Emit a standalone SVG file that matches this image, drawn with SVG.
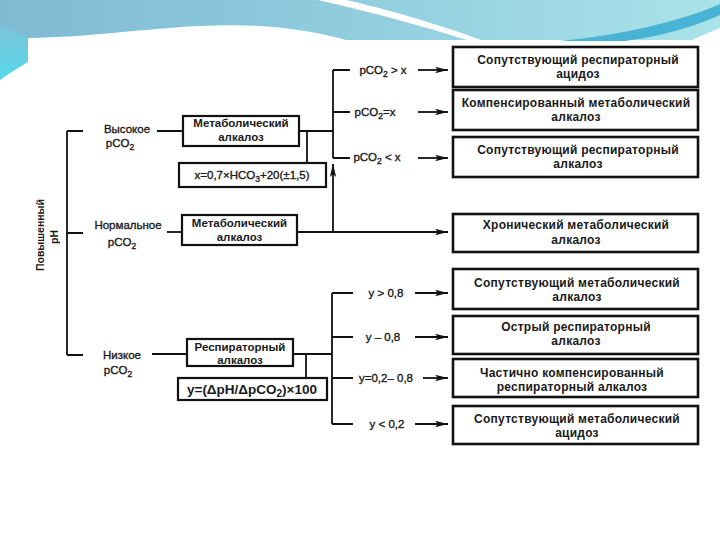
<svg xmlns="http://www.w3.org/2000/svg" width="720" height="540" viewBox="0 0 720 540">
<defs>
<linearGradient id="hdr" x1="0" y1="0" x2="1" y2="0">
<stop offset="0" stop-color="#7fbad3"/>
<stop offset="0.45" stop-color="#8ecbdd"/>
<stop offset="1" stop-color="#abe3ea"/>
</linearGradient>
<linearGradient id="cy" x1="0" y1="0" x2="0" y2="1">
<stop offset="0" stop-color="#7cc4d8"/>
<stop offset="1" stop-color="#55d8ec"/>
</linearGradient>
<marker id="ar" markerUnits="userSpaceOnUse" markerWidth="14" markerHeight="8" refX="13" refY="4" orient="auto">
<path d="M0,0.8 L13,4 L0,7.2 L3,4 Z" fill="#111"/>
</marker>
<style>
.ln{stroke:#111;stroke-width:1.8;fill:none}
.bx{fill:#fff;stroke:#111;stroke-width:2.2}
.rb{fill:#fff;stroke:#111;stroke-width:2.6}
.t{font-family:"Liberation Sans",Arial,sans-serif;font-size:11.5px;font-weight:bold;fill:#1a1a1a;text-anchor:middle}
.r{font-size:12px;letter-spacing:0.25px}
.l{font-family:"Liberation Sans",Arial,sans-serif;font-size:11.5px;fill:#1a1a1a;stroke:#1a1a1a;stroke-width:0.35;text-anchor:middle}
</style>
</defs>
<rect width="720" height="540" fill="#fff"/>
<g id="header">
<rect x="0" y="0" width="720" height="40" fill="url(#hdr)"/>
<path d="M0,26 C12,30 22,34 28,38 L28,62 C18,68 8,74 0,80 Z" fill="url(#cy)"/>
<path d="M28,41 V38 C90,37 140,29 200,26 C255,23 305,28 350,41 Z" fill="#fff"/>
<path d="M318,0 C370,12 420,25 470,41 L484,41 C432,22 382,8 346,0 Z" fill="#fff"/>
<path d="M560,41 C620,35 680,22 720,4 V15 C690,29 650,38 625,41 Z" fill="#48b3d5"/>
<path d="M690,41 C700,36 710,32 720,28 V41 Z" fill="#fff"/>
</g>

<g id="connectors">
<path class="ln" d="M67,131 V355 M67,131 H83 M67,233 H83 M67,355 H83"/>
<path class="ln" d="M157,131 H183 M299,131 H333 M307,131 V163"/>
<path class="ln" d="M333,70 V158 M333,70 H350 M333,112 H350 M333,158 H350"/>
<path class="ln" d="M418,70 H448" marker-end="url(#ar)"/>
<path class="ln" d="M418,112 H448" marker-end="url(#ar)"/>
<path class="ln" d="M418,158 H448" marker-end="url(#ar)"/>
<path class="ln" d="M167,232 H182"/>
<path class="ln" d="M297,232 H448" marker-end="url(#ar)"/>
<path class="ln" d="M333,232 V164" marker-end="url(#ar)"/>
<path class="ln" d="M152,354 H187 M293,354 H332 M306,354 V378"/>
<path class="ln" d="M332,293 V424 M332,293 H353 M332,337 H353 M332,378 H353 M332,424 H353"/>
<path class="ln" d="M415,293 H448" marker-end="url(#ar)"/>
<path class="ln" d="M415,337 H448" marker-end="url(#ar)"/>
<path class="ln" d="M423,378 H448" marker-end="url(#ar)"/>
<path class="ln" d="M415,424 H448" marker-end="url(#ar)"/>
</g>

<g id="root">
<text class="t" x="44" y="235" transform="rotate(-90 44 235)" style="font-size:10.5px">Повышенный</text>
<text class="t" x="58" y="237" transform="rotate(-90 58 237)" style="font-size:10.5px">pH</text>
</g>

<g id="lbl-high">
<text class="l" x="127" y="133">Высокое</text>
<text class="l" x="120" y="147">pCO<tspan font-size="8.5" dy="3">2</tspan></text>
</g>
<g id="lbl-normal">
<text class="l" x="128" y="229">Нормальное</text>
<text class="l" x="122" y="246">pCO<tspan font-size="8.5" dy="3">2</tspan></text>
</g>
<g id="lbl-low">
<text class="l" x="122" y="359">Низкое</text>
<text class="l" x="118" y="374">pCO<tspan font-size="8.5" dy="3">2</tspan></text>
</g>

<g id="n-met1">
<rect class="bx" x="183" y="116" width="116" height="30"/>
<text class="t" x="241" y="127">Метаболический</text>
<text class="t" x="241" y="141">алкалоз</text>
</g>
<g id="n-fx">
<rect class="bx" x="179" y="163" width="147" height="24"/>
<text class="l" x="252" y="179">x=0,7×HCO<tspan font-size="8.5" dy="3">3</tspan><tspan dy="-3">+20(±1,5)</tspan></text>
</g>
<g id="n-met2">
<rect class="bx" x="182" y="215" width="115" height="30"/>
<text class="t" x="239.5" y="227">Метаболический</text>
<text class="t" x="239.5" y="241">алкалоз</text>
</g>
<g id="n-resp">
<rect class="bx" x="187" y="339" width="106" height="27"/>
<text class="t" x="240" y="351">Респираторный</text>
<text class="t" x="240" y="364">алкалоз</text>
</g>
<g id="n-fy">
<rect class="bx" x="178" y="378" width="149" height="22"/>
<text class="t" x="252" y="394" style="font-size:13.5px">y=(ΔpH/ΔpCO<tspan font-size="10" dy="3">2</tspan><tspan dy="-3">)×100</tspan></text>
</g>

<g id="branch-labels">
<text class="l" x="383" y="74">pCO<tspan font-size="8.5" dy="3">2</tspan><tspan dy="-3"> &gt; x</tspan></text>
<text class="l" x="375" y="116">pCO<tspan font-size="8.5" dy="3">2</tspan><tspan dy="-3">=x</tspan></text>
<text class="l" x="377" y="161">pCO<tspan font-size="8.5" dy="3">2</tspan><tspan dy="-3"> &lt; x</tspan></text>
<text class="l" x="386" y="297">y &gt; 0,8</text>
<text class="l" x="383" y="341">y – 0,8</text>
<text class="l" x="386" y="382">y=0,2– 0,8</text>
<text class="l" x="387" y="428">y &lt; 0,2</text>
</g>

<g id="r1"><rect class="rb" x="453" y="47" width="245" height="40"/>
<text class="t r" x="578" y="64">Сопутствующий респираторный</text><text class="t r" x="578" y="78">ацидоз</text></g>
<g id="r2"><rect class="rb" x="453" y="90" width="245" height="40"/>
<text class="t r" x="576" y="107">Компенсированный метаболический</text><text class="t r" x="576" y="121">алкалоз</text></g>
<g id="r3"><rect class="rb" x="453" y="137" width="245" height="40"/>
<text class="t r" x="578" y="154">Сопутствующий респираторный</text><text class="t r" x="578" y="168">алкалоз</text></g>
<g id="r4"><rect class="rb" x="453" y="214" width="245" height="38"/>
<text class="t r" x="576" y="229">Хронический метаболический</text><text class="t r" x="576" y="244">алкалоз</text></g>
<g id="r5"><rect class="rb" x="453" y="269" width="245" height="40"/>
<text class="t r" x="577" y="287">Сопутствующий метаболический</text><text class="t r" x="577" y="301">алкалоз</text></g>
<g id="r6"><rect class="rb" x="453" y="316" width="245" height="38"/>
<text class="t r" x="576" y="331">Острый респираторный</text><text class="t r" x="576" y="345">алкалоз</text></g>
<g id="r7"><rect class="rb" x="453" y="359" width="245" height="38"/>
<text class="t r" x="572" y="377">Частично компенсированный</text><text class="t r" x="572" y="391">респираторный алкалоз</text></g>
<g id="r8"><rect class="rb" x="453" y="406" width="245" height="38"/>
<text class="t r" x="577" y="423">Сопутствующий метаболический</text><text class="t r" x="577" y="437">ацидоз</text></g>
</svg>
